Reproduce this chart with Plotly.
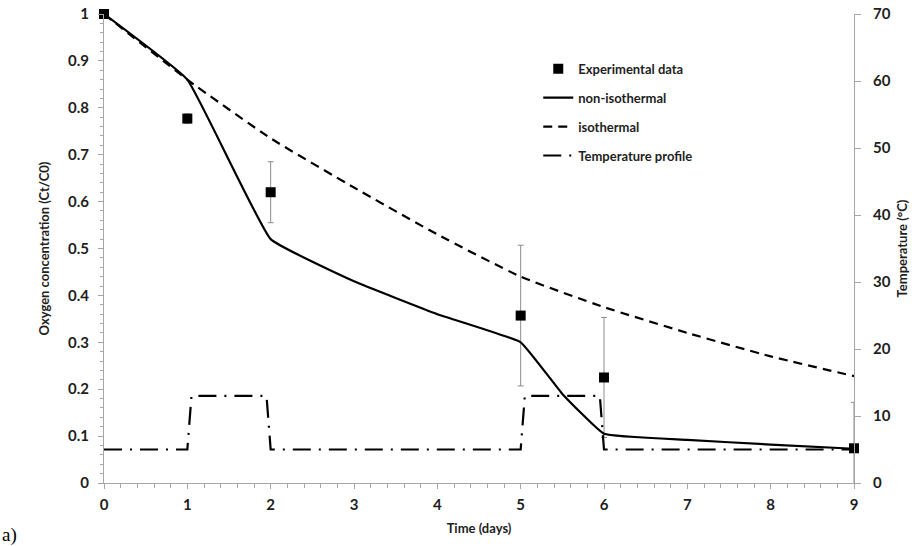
import plotly.graph_objects as go

# Time axis (days) and measured oxygen concentration
exp_days = [0, 1, 2, 5, 6, 9]
exp_conc = [1.0, 0.777, 0.62, 0.357, 0.225, 0.074]
exp_err = [0.0, 0.01, 0.065, 0.15, 0.128, 0.098]

# Model: non-isothermal storage
noniso_days = [0, 1, 2, 3, 4, 5, 5.5, 6, 7, 8, 9]
noniso_conc = [1.0, 0.86, 0.52, 0.43, 0.36, 0.30, 0.19, 0.105, 0.092, 0.082, 0.073]

# Model: isothermal storage
iso_days = [0, 1, 2, 3, 4, 5, 6, 7, 8, 9]
iso_conc = [1.0, 0.86, 0.735, 0.63, 0.53, 0.44, 0.375, 0.32, 0.27, 0.228]

# Temperature profile (°C)
temp_days = [0, 1, 1.05, 1.95, 2, 5, 5.05, 5.95, 6, 9]
temp_vals = [5, 5, 13, 13, 5, 5, 13, 13, 5, 5]

x_ticks = list(range(0, 10))
y_ticks = [0, 0.1, 0.2, 0.3, 0.4, 0.5, 0.6, 0.7, 0.8, 0.9, 1]
y_ticklabels = ["0", "0.1", "0.2", "0.3", "0.4", "0.5", "0.6", "0.7", "0.8", "0.9", "1"]
y2_ticks = [0, 10, 20, 30, 40, 50, 60, 70]

FONT = "Lato"
TXT = "#1e1e1e"
AXIS = "#a6a6a6"
TICKFONT = dict(family=FONT, size=15, color=TXT, weight="bold")
TITLEFONT = dict(family=FONT, size=13, color=TXT, weight="bold")

fig = go.Figure()

fig.add_trace(go.Scatter(
    x=exp_days, y=exp_conc, mode="markers", name="Experimental data",
    marker=dict(symbol="square", size=10, color="black"),
    error_y=dict(type="data", array=exp_err, visible=True,
                 color="#8c8c8c", thickness=1, width=3),
    cliponaxis=False, legendgroup="a",
))
fig.add_trace(go.Scatter(
    x=noniso_days, y=noniso_conc, mode="lines", name="non-isothermal",
    line=dict(color="black", width=2.2, shape="spline", smoothing=0.3),
    legendgroup="b",
))
fig.add_trace(go.Scatter(
    x=iso_days, y=iso_conc, mode="lines", name="isothermal",
    line=dict(color="black", width=2.2, dash="9px,6px", shape="spline", smoothing=0.5),
    legendgroup="c",
))
fig.add_trace(go.Scatter(
    x=temp_days, y=temp_vals, mode="lines", name="Temperature profile",
    line=dict(color="black", width=2.2, dash="18px,8px,2px,8px"),
    yaxis="y2", legendgroup="d",
))

fig.update_layout(
    width=916, height=546,
    margin=dict(l=104, r=62, t=14, b=63),
    paper_bgcolor="white", plot_bgcolor="white",
    font=dict(family=FONT, color=TXT, size=13),
    showlegend=True,
    legend=dict(
        x=0.579, y=0.915, xanchor="left", yanchor="top",
        bgcolor="rgba(0,0,0,0)", tracegroupgap=9,
        traceorder="grouped",
        font=dict(family=FONT, size=13, color=TXT, weight="bold"),
    ),
    xaxis=dict(
        range=[0, 9], tickvals=x_ticks, showgrid=False, zeroline=False,
        automargin=False,
        showline=True, linecolor=AXIS, linewidth=1,
        ticks="outside", ticklen=5, tickcolor=AXIS,
        minor=dict(dtick=0.2, ticks="outside", ticklen=4, tickcolor=AXIS),
        tickfont=TICKFONT, ticklabelstandoff=3,
        title=dict(text="Time (days)", standoff=11, font=TITLEFONT),
    ),
    yaxis=dict(
        range=[0, 1], tickvals=y_ticks, ticktext=y_ticklabels,
        showgrid=False, zeroline=False, automargin=False,
        showline=True, linecolor=AXIS, linewidth=1,
        ticks="outside", ticklen=5, tickcolor=AXIS,
        minor=dict(dtick=0.02, ticks="outside", ticklen=3, tickcolor=AXIS),
        tickfont=TICKFONT, ticklabelstandoff=6,
        title=dict(text="Oxygen concentration (Ct/C0)", standoff=15, font=TITLEFONT),
    ),
    yaxis2=dict(
        range=[0, 70], tickvals=y2_ticks, overlaying="y", side="right",
        showgrid=False, zeroline=False, automargin=False,
        showline=True, linecolor=AXIS, linewidth=1,
        ticks="outside", ticklen=6, tickcolor=AXIS,
        tickfont=TICKFONT, ticklabelstandoff=9,
        title=dict(text="Temperature (°C)", standoff=8, font=TITLEFONT),
    ),
    annotations=[dict(
        text="a)", xref="paper", yref="paper",
        x=-0.139, y=-0.11, xanchor="left", yanchor="middle",
        showarrow=False,
        font=dict(family="Liberation Serif", size=19, color="black"),
    )],
)

fig.write_html("out.html")
